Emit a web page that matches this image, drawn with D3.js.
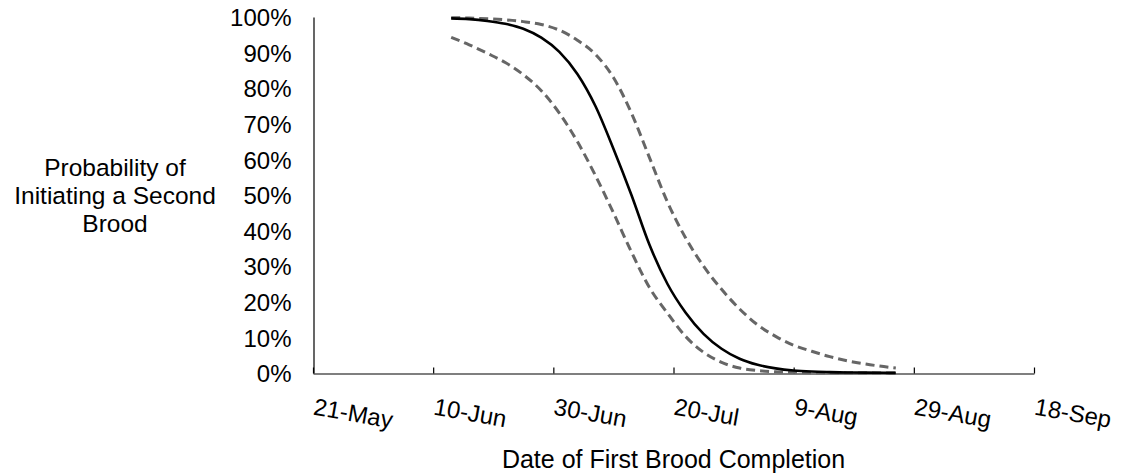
<!DOCTYPE html>
<html>
<head>
<meta charset="utf-8">
<script src="https://cdn.jsdelivr.net/npm/d3@7"></script>
<style>
  html, body { margin: 0; padding: 0; background: #fff; }
  svg { display: block; }
  text { font-family: "Liberation Sans", Arial, sans-serif; fill: #000; }
</style>
</head>
<body>
<svg id="chart" width="1125" height="475"></svg>
<script>
// Date of first brood completion (sample points along the fitted curve)
const dates = [
  "2013-06-13", "2013-06-16", "2013-06-19", "2013-06-22", "2013-06-25", "2013-06-28",
  "2013-07-01", "2013-07-04", "2013-07-07", "2013-07-10", "2013-07-13", "2013-07-16",
  "2013-07-19", "2013-07-22", "2013-07-25", "2013-07-28", "2013-07-31", "2013-08-03",
  "2013-08-06", "2013-08-09", "2013-08-12", "2013-08-15", "2013-08-18", "2013-08-21",
  "2013-08-24", "2013-08-26"
];

// Predicted probability (%) of initiating a second brood
const predicted = [
  99.6, 99.4, 98.9, 98.1, 96.7, 94.2, 90.2, 84, 75, 63, 50, 36,
  25, 17, 11, 6.8, 4, 2.3, 1.3, 0.7, 0.4, 0.25, 0.15, 0.1, 0.05, 0.03
];

// Upper confidence limit (%)
const upperCI = [
  99.8, 99.7, 99.5, 99.2, 98.7, 97.9, 96.3, 93.5, 89.5, 83, 73, 60.5,
  48, 38, 30, 23.5, 18, 13.5, 10.3, 7.8, 6.1, 4.6, 3.4, 2.5, 1.8, 1.4
];

// Lower confidence limit (%)
const lowerCI = [
  94.3, 92.2, 89.8, 87.2, 83.8, 79.3, 73, 65, 55.5, 45, 34, 24,
  16.8, 10.3, 5.8, 3, 1.4, 0.7, 0.35, 0.2, 0.1, 0.06, 0.04, 0.03, 0.02, 0.01
];

// X-axis ticks and labels
const xTickDates = ["2013-05-21", "2013-06-10", "2013-06-30", "2013-07-20", "2013-08-09", "2013-08-29", "2013-09-18"];
const xTickLabels = ["21-May", "10-Jun", "30-Jun", "20-Jul", "9-Aug", "29-Aug", "18-Sep"];

// Y-axis ticks
const yTicks = [0, 10, 20, 30, 40, 50, 60, 70, 80, 90, 100];

const yTitleLines = ["Probability of", "Initiating a Second", "Brood"];
const xTitle = "Date of First Brood Completion";

const parse = d3.timeParse("%Y-%m-%d");
const svg = d3.select("#chart");

const plotLeft = 313, plotRight = 1034, plotTop = 17, plotBottom = 373;

const x = d3.scaleTime()
  .domain([parse(xTickDates[0]), parse(xTickDates[xTickDates.length - 1])])
  .range([plotLeft, plotRight]);
const y = d3.scaleLinear().domain([0, 100]).range([plotBottom, plotTop]);

// Y axis
const yAxis = d3.axisLeft(y)
  .tickValues(yTicks)
  .tickSize(0)
  .tickPadding(22)
  .tickFormat(d => d + "%");
const gy = svg.append("g")
  .attr("transform", `translate(${plotLeft + 0.5},0)`)
  .call(yAxis);
gy.select(".domain").attr("stroke", "#000").attr("stroke-width", 1.2);
gy.selectAll("text")
  .attr("font-size", 24)
  .attr("font-family", "Liberation Sans, Arial, sans-serif")
  .attr("fill", "#000")
  .attr("dy", "0.36em");

// X axis (ticks point up into the plot)
const labelByTime = new Map(xTickDates.map((d, i) => [+parse(d), xTickLabels[i]]));
const xAxis = d3.axisBottom(x)
  .tickValues(xTickDates.map(parse))
  .tickSizeInner(-6)
  .tickSizeOuter(0)
  .tickFormat(d => labelByTime.get(+d));
const gx = svg.append("g")
  .attr("transform", `translate(0,${plotBottom + 0.5})`)
  .call(xAxis);
gx.select(".domain").attr("stroke", "#000").attr("stroke-width", 1.2);
gx.selectAll(".tick line").attr("stroke", "#000").attr("stroke-width", 1.2);
gx.selectAll("text")
  .attr("font-size", 24)
  .attr("font-family", "Liberation Sans, Arial, sans-serif")
  .attr("fill", "#000")
  .attr("text-anchor", "start")
  .attr("y", 0)
  .attr("dy", 0)
  .attr("transform", "translate(-1,41) rotate(10)");

// Curves
const line = d3.line()
  .x((d, i) => x(parse(dates[i])))
  .y(d => y(d))
  .curve(d3.curveMonotoneX);

const plot = svg.append("g");
plot.append("path")
  .datum(lowerCI)
  .attr("d", line)
  .attr("fill", "none")
  .attr("stroke", "#666")
  .attr("stroke-width", 3)
  .attr("stroke-dasharray", "9,5");
plot.append("path")
  .datum(upperCI)
  .attr("d", line)
  .attr("fill", "none")
  .attr("stroke", "#666")
  .attr("stroke-width", 3)
  .attr("stroke-dasharray", "9,5");
plot.append("path")
  .datum(predicted)
  .attr("d", line)
  .attr("fill", "none")
  .attr("stroke", "#000")
  .attr("stroke-width", 2.6);

// Axis titles
svg.append("text")
  .attr("x", 115)
  .attr("text-anchor", "middle")
  .attr("font-size", 24.5)
  .selectAll("tspan")
  .data(yTitleLines)
  .join("tspan")
  .attr("x", 115)
  .attr("y", (d, i) => 176 + i * 28)
  .text(d => d);

svg.append("text")
  .attr("x", 673.5)
  .attr("y", 468)
  .attr("text-anchor", "middle")
  .attr("font-size", 25)
  .text(xTitle);
</script>
</body>
</html>
